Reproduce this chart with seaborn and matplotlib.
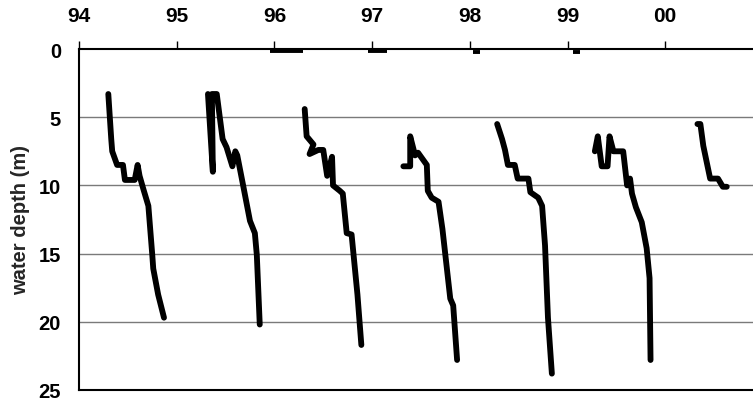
import matplotlib
matplotlib.use("Agg")
import matplotlib.pyplot as plt
import seaborn as sns
import pandas as pd

# Profiles (decimal year, water depth in m)
y94_x = [1994.30, 1994.33, 1994.34, 1994.39, 1994.45, 1994.47, 1994.57, 1994.60, 1994.62, 1994.66, 1994.71, 1994.75, 1994.76, 1994.81, 1994.87]
y94_d = [3.3, 6.6, 7.5, 8.5, 8.5, 9.6, 9.6, 8.5, 9.3, 10.3, 11.5, 15.1, 16.1, 18.0, 19.7]

y95_x = [1995.32, 1995.37, 1995.36, 1995.41, 1995.47, 1995.51, 1995.57, 1995.60, 1995.62, 1995.68, 1995.75, 1995.80, 1995.82, 1995.85]
y95_d = [3.3, 9.0, 3.3, 3.3, 6.6, 7.2, 8.6, 7.5, 7.8, 10.0, 12.6, 13.5, 15.1, 20.2]

y96_x = [1996.31, 1996.33, 1996.40, 1996.36, 1996.45, 1996.50, 1996.54, 1996.59, 1996.60, 1996.67, 1996.70, 1996.74, 1996.79, 1996.85, 1996.89]
y96_d = [4.4, 6.4, 7.0, 7.7, 7.4, 7.4, 9.3, 7.9, 10.0, 10.4, 10.6, 13.5, 13.6, 18.0, 21.7]

y97_x = [1997.32, 1997.39, 1997.39, 1997.44, 1997.47, 1997.56, 1997.57, 1997.61, 1997.68, 1997.72, 1997.80, 1997.83, 1997.87]
y97_d = [8.6, 8.6, 6.4, 7.8, 7.6, 8.5, 10.4, 10.9, 11.2, 13.2, 18.3, 18.8, 22.8]

y98_x = [1998.28, 1998.33, 1998.36, 1998.39, 1998.46, 1998.49, 1998.60, 1998.62, 1998.70, 1998.74, 1998.77, 1998.80, 1998.84]
y98_d = [5.5, 6.6, 7.4, 8.5, 8.5, 9.5, 9.5, 10.5, 10.9, 11.5, 14.4, 19.7, 23.8]

y99_x = [1999.28, 1999.31, 1999.35, 1999.41, 1999.43, 1999.47, 1999.57, 1999.61, 1999.64, 1999.66, 1999.70, 1999.76, 1999.81, 1999.84, 1999.85]
y99_d = [7.5, 6.4, 8.6, 8.6, 6.4, 7.5, 7.5, 10.0, 9.5, 10.6, 11.6, 12.7, 14.6, 16.8, 22.8]

y00_x = [2000.33, 2000.36, 2000.39, 2000.46, 2000.54, 2000.59, 2000.63]
y00_d = [5.5, 5.5, 7.1, 9.5, 9.5, 10.1, 10.1]

# Short thick marks at the surface
ice_start = [1995.955, 1996.96, 1998.03, 1999.06]
ice_end = [1996.29, 1997.15, 1998.10, 1999.13]
ice_depth = [0.15, 0.15, 0.25, 0.25]

tick_years = [1994, 1995, 1996, 1997, 1998, 1999, 2000]
tick_labels = ["94", "95", "96", "97", "98", "99", "00"]
depth_ticks = [0, 5, 10, 15, 20, 25]

profiles = [(y94_x, y94_d), (y95_x, y95_d), (y96_x, y96_d), (y97_x, y97_d),
            (y98_x, y98_d), (y99_x, y99_d), (y00_x, y00_d)]
rows = []
for i, (xs, ds) in enumerate(profiles):
    for j, (x, d) in enumerate(zip(xs, ds)):
        rows.append({"year": x, "depth": d, "profile": i, "order": j})
df = pd.DataFrame(rows)

sns.set_style("white")
plt.rcParams["font.family"] = ["Liberation Sans", "DejaVu Sans"]

fig = plt.figure(figsize=(7.53, 4.02), dpi=100)
ax = fig.add_axes([79 / 753, 1 - 391 / 402, 1 - 79 / 753, (391 - 50) / 402])

for d in [5, 10, 15, 20]:
    ax.axhline(d, color="#7a7a7a", lw=1.0, zorder=1)

sns.lineplot(data=df, x="year", y="depth", units="profile", estimator=None,
             sort=False, color="black", lw=4.2, ax=ax, legend=False, zorder=3)

for s, e, d in zip(ice_start, ice_end, ice_depth):
    ax.plot([s, e], [d, d], color="black", lw=2.8, solid_capstyle="butt", zorder=3)

ax.set_xlim(1994.0, 1994 + (753 - 79) / 97.7)
ax.set_ylim(25, 0)
ax.xaxis.tick_top()
ax.set_xticks(tick_years)
ax.set_xticklabels(tick_labels, fontsize=15, fontweight="bold")
ax.set_yticks(depth_ticks)
ax.set_yticklabels([str(t) for t in depth_ticks], fontsize=14.5, fontweight="bold")
ax.tick_params(axis="x", which="both", top=True, bottom=False, direction="out",
               length=6, width=1, pad=11, colors="black")
ax.tick_params(axis="y", direction="out", length=7, width=1, pad=6, colors="black")
ax.set_xlabel("")
ax.set_ylabel("water depth (m)", fontsize=14.5, fontweight="bold", labelpad=6)

for side in ["left", "top", "bottom"]:
    ax.spines[side].set_visible(True)
    ax.spines[side].set_color("black")
    ax.spines[side].set_linewidth(1.5)
ax.spines["right"].set_visible(False)

fig.savefig("out.png", dpi=100)
